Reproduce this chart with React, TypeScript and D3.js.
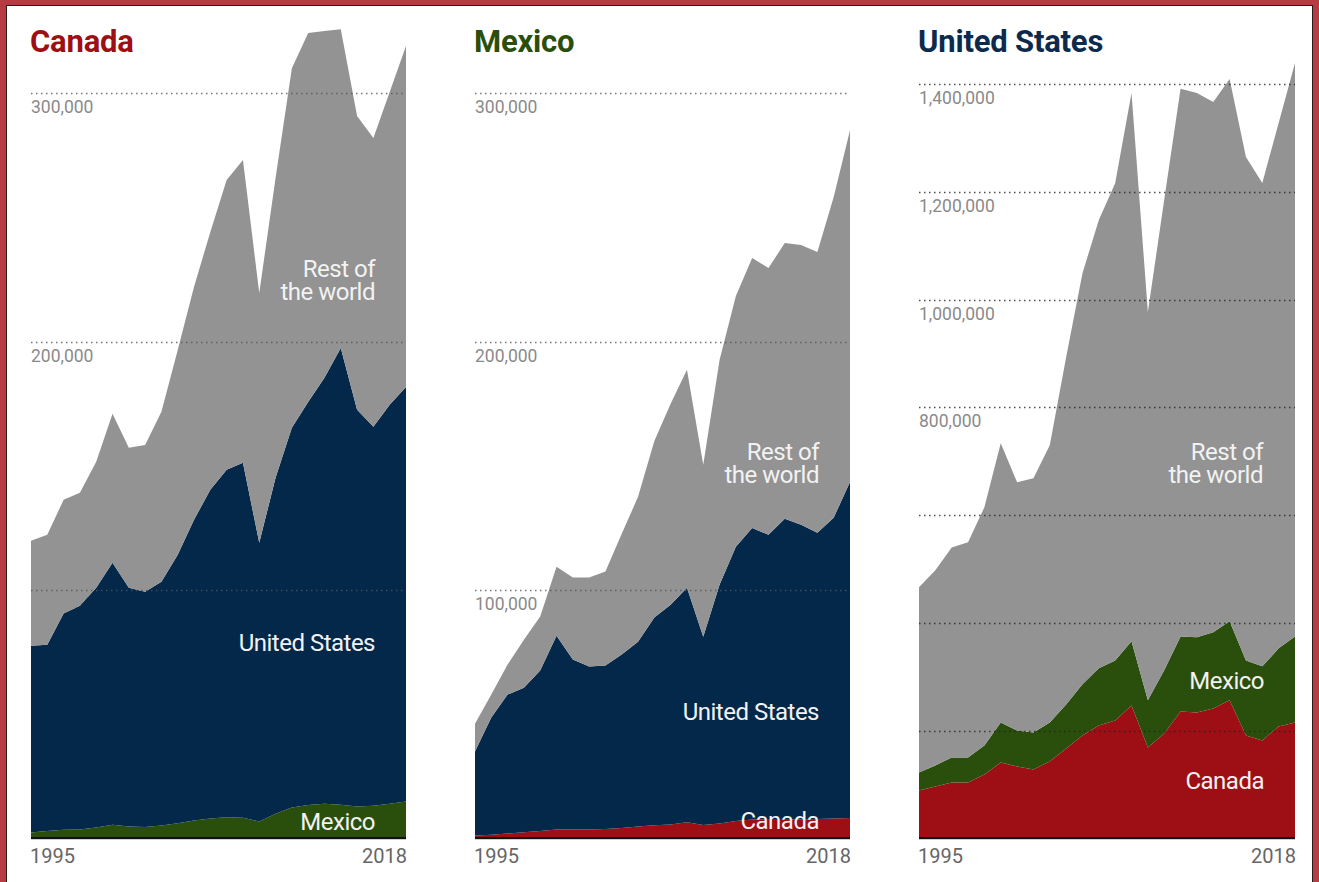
import React from "react";
import * as d3 from "d3";

// Years on the x axis
const years = [1995, 1996, 1997, 1998, 1999, 2000, 2001, 2002, 2003, 2004, 2005, 2006, 2007, 2008, 2009, 2010, 2011, 2012, 2013, 2014, 2015, 2016, 2017, 2018];

// Values in thousands
// Canada's exports
const canadaToMexico = [2.4, 3.0, 3.5, 3.6, 4.4, 5.5, 4.8, 4.6, 5.2, 6.1, 7.2, 8.0, 8.6, 8.4, 6.8, 10.0, 12.5, 13.5, 14.0, 13.6, 12.9, 13.2, 14.0, 14.9];
const canadaToUS = [75.2, 75.0, 87.0, 90.1, 96.5, 105.5, 96.1, 94.7, 98.1, 108.1, 121.1, 132.3, 139.8, 142.8, 112.2, 135.2, 152.8, 162.2, 171.4, 183.8, 159.6, 152.5, 160.5, 166.8];
const canadaToRest = [42.2, 44.2, 45.8, 45.4, 50.7, 59.9, 56.3, 59.1, 68.4, 82.4, 93.7, 103.8, 116.6, 121.8, 100.5, 120.6, 144.7, 148.4, 139.5, 128.3, 118.2, 116.2, 125.9, 137.2];

// Mexico's exports
const mexicoToCanada = [1.2, 1.5, 2.0, 2.5, 3.0, 3.6, 3.6, 3.6, 3.8, 4.2, 4.8, 5.3, 5.6, 6.5, 5.4, 6.0, 7.0, 7.6, 7.8, 7.8, 7.6, 7.8, 8.0, 8.2];
const mexicoToUS = [33.8, 47.2, 55.9, 58.2, 64.6, 78.0, 68.4, 65.6, 65.8, 69.8, 74.4, 83.6, 88.5, 94.4, 75.8, 96.1, 110.4, 117.4, 114.4, 120.9, 118.7, 115.2, 121.1, 135.3];
const mexicoToRest = [11.2, 9.2, 12.1, 19.3, 21.7, 27.8, 33.0, 35.8, 37.8, 48.6, 58.3, 71.1, 80.8, 87.7, 69.2, 90.5, 100.9, 108.6, 107.4, 110.9, 112.5, 113.0, 129.0, 141.5];

// United States' exports
const usToCanada = [89.1, 96.6, 104.0, 104.0, 118.8, 141.1, 133.7, 128.1, 143.0, 167.1, 191.3, 209.8, 219.1, 247.0, 169.0, 195.0, 235.8, 234.0, 241.4, 256.3, 191.3, 182.0, 208.0, 215.4];
const usToMexico = [33.5, 39.0, 46.4, 46.4, 53.9, 74.3, 66.9, 68.7, 72.4, 81.7, 94.7, 105.9, 111.4, 118.8, 87.3, 117.0, 139.2, 139.3, 141.1, 146.7, 139.2, 137.4, 144.8, 159.6];
const usToRest = [343.4, 362.1, 389.6, 399.3, 442.0, 518.1, 460.4, 471.7, 514.4, 644.2, 763.0, 831.9, 885.5, 1017.7, 720.5, 873.0, 1016.0, 1010.2, 984.3, 1006.5, 934.1, 896.9, 975.0, 1064.0];

// Ticks (thousands)
const smallTicks = [100, 200, 300];
const smallLabelled = [100, 200, 300];
const usTicks = [200, 400, 600, 800, 1000, 1200, 1400];
const usLabelled = [800, 1000, 1200, 1400];

const titles = ["Canada", "Mexico", "United States"];

const C_RED = "#9d0f14";
const C_GREEN = "#2a4f0c";
const C_NAVY = "#03284a";
const C_GRAY = "#939393";

type Series = { name: string; values: number[]; color: string; label: string[]; lx: number; ly: number };

const FONT = "Roboto, 'Noto Sans', sans-serif";

function Panel({ x0, x1, title, titleColor, yTop, yMax, ticks, labelled, series, gridColor }: any) {
  const yBase = 838.5;
  const x = d3.scaleLinear().domain([years[0], years[years.length - 1]]).range([x0, x1]);
  const y = d3.scaleLinear().domain([0, yMax]).range([yBase, yTop]);
  const rows = years.map((yr, i) => {
    const r: any = { year: yr };
    series.forEach((s: Series) => (r[s.name] = s.values[i]));
    return r;
  });
  const stack = d3.stack<any>().keys(series.map((s: Series) => s.name));
  const layers = stack(rows);
  const area = d3
    .area<any>()
    .x((d) => x(d.data.year))
    .y0((d) => y(d[0]))
    .y1((d) => y(d[1]));
  const fmt = (v: number) => d3.format(",")(v * 1000);
  return (
    <g>
      <text x={x0 - 1} y={51.5} fill={titleColor} fontFamily={FONT} fontWeight={700} fontSize={31} letterSpacing={-0.2}>
        {title}
      </text>
      {labelled.map((t: number) => (
        <text key={"l" + t} x={x0} y={y(t) + 20} fill="#8a8a8a" fontFamily={FONT} fontSize={17.5}>
          {fmt(t)}
        </text>
      ))}
      {layers.map((L: any, i: number) => (
        <path key={L.key} d={area(L) || ""} fill={series[i].color} />
      ))}
      {ticks.map((t: number) => (
        <line
          key={"g" + t}
          x1={x0}
          x2={x1}
          y1={Math.round(y(t)) + 0.5}
          y2={Math.round(y(t)) + 0.5}
          stroke={gridColor}
          strokeWidth={1.3}
          strokeDasharray="1.5,3.5"
          opacity={0.8}
        />
      ))}
      <line x1={x0} x2={x1} y1={yBase + 1} y2={yBase + 1} stroke="#cfcfcf" strokeWidth={1} />
      <line x1={x0} x2={x1} y1={yBase - 0.5} y2={yBase - 0.5} stroke="#111" strokeWidth={2} />
      {series.map((s: Series) =>
        s.label.map((ln, j) => (
          <text
            key={s.name + j}
            x={s.lx}
            y={s.ly + j * 23}
            textAnchor="end"
            fill="#f2f2f2"
            fontFamily={FONT}
            fontSize={24}
            letterSpacing={-0.5}
          >
            {ln}
          </text>
        ))
      )}
      <text x={x0 - 1} y={863} fill="#666" fontFamily={FONT} fontSize={20}>
        {years[0]}
      </text>
      <text x={x1 + 1} y={863} textAnchor="end" fill="#666" fontFamily={FONT} fontSize={20}>
        {years[years.length - 1]}
      </text>
    </g>
  );
}

export default function App() {
  const W = 1319;
  const H = 882;
  const panels = [
    {
      x0: 31,
      x1: 406,
      title: titles[0],
      titleColor: C_RED,
      yTop: 93,
      yMax: 300,
      ticks: smallTicks,
      labelled: smallLabelled,
      gridColor: "#555",
      series: [
        { name: "Mexico", values: canadaToMexico, color: C_GREEN, label: ["Mexico"], lx: 375, ly: 830 },
        { name: "United States", values: canadaToUS, color: C_NAVY, label: ["United States"], lx: 375, ly: 651 },
        { name: "Rest", values: canadaToRest, color: C_GRAY, label: ["Rest of", "the world"], lx: 375, ly: 277 },
      ],
    },
    {
      x0: 475,
      x1: 850,
      title: titles[1],
      titleColor: C_GREEN,
      yTop: 93,
      yMax: 300,
      ticks: smallTicks,
      labelled: smallLabelled,
      gridColor: "#555",
      series: [
        { name: "Canada", values: mexicoToCanada, color: C_RED, label: ["Canada"], lx: 819, ly: 829 },
        { name: "United States", values: mexicoToUS, color: C_NAVY, label: ["United States"], lx: 819, ly: 720 },
        { name: "Rest", values: mexicoToRest, color: C_GRAY, label: ["Rest of", "the world"], lx: 819, ly: 460 },
      ],
    },
    {
      x0: 919,
      x1: 1295,
      title: titles[2],
      titleColor: "#0d2a4c",
      yTop: 84,
      yMax: 1400,
      ticks: usTicks,
      labelled: usLabelled,
      gridColor: "#222",
      series: [
        { name: "Canada", values: usToCanada, color: C_RED, label: ["Canada"], lx: 1264, ly: 789 },
        { name: "Mexico", values: usToMexico, color: C_GREEN, label: ["Mexico"], lx: 1264, ly: 689 },
        { name: "Rest", values: usToRest, color: C_GRAY, label: ["Rest of", "the world"], lx: 1263, ly: 460 },
      ],
    },
  ];
  return (
    <svg width={W} height={H} style={{ position: "absolute", left: 0, top: 0, display: "block" }}>
      <rect x={0} y={0} width={W} height={H} fill="#b73b43" />
      <rect x={6.5} y={5.5} width={1306} height={H + 10} fill="#ffffff" stroke="#2b1a1a" strokeWidth={1} />
      {panels.map((p, i) => (
        <Panel key={i} {...p} />
      ))}
    </svg>
  );
}
